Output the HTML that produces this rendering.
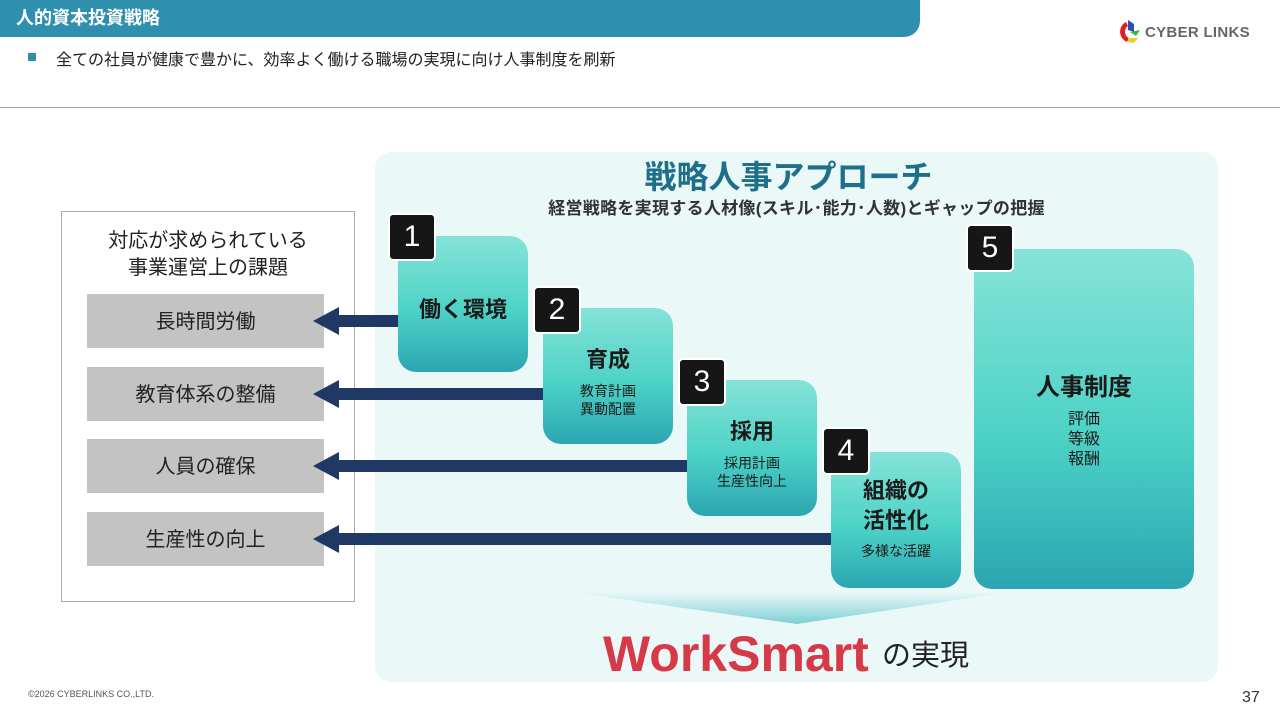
<!DOCTYPE html>
<html><head><meta charset="utf-8"><style>
*{margin:0;padding:0;box-sizing:border-box}
body{width:1280px;height:720px;background:#fff;position:relative;overflow:hidden;font-family:"Liberation Sans","Noto Sans CJK JP",sans-serif;color:#222}
.a{position:absolute}
.hdr{left:0;top:0;width:920px;height:37px;background:#2e8fae;border-bottom-right-radius:16px;color:#fff;font-weight:bold;font-size:18px;line-height:37px;padding-left:16px}
.panel{left:375px;top:152px;width:843px;height:530px;background:#eaf8f8;border-radius:16px}
.lbox{left:61px;top:211px;width:294px;height:391px;border:1px solid #aaa;background:#fff}
.g{left:87px;width:237px;height:54px;background:#c3c3c3;font-size:20px;text-align:center;line-height:56px;color:#222}
.card{border-radius:18px;background:linear-gradient(#86e3d8 0%,#4dd2c6 55%,#2ba5b1 100%);text-align:center;color:#1a1a1a}
.bd{width:48px;height:48px;background:#161616;border:2px solid #fff;border-radius:5px;color:#fff;font-size:30px;text-align:center;line-height:44px}
.t{font-size:22px;font-weight:bold}
.s{font-size:14px;line-height:18px}
</style></head><body>
<div class="a hdr">人的資本投資戦略</div>
<div class="a" style="left:28px;top:53px;width:8px;height:8px;background:#2e8fae"></div>
<div class="a" style="left:56px;top:46px;font-size:16px">全ての社員が健康で豊かに、効率よく働ける職場の実現に向け人事制度を刷新</div>
<div class="a" style="left:1118px;top:18px;width:24px;height:26px">
<svg width="24" height="26"><path d="M10 2 L16 6 L16 14 L10 12Z" fill="#2a4fb0"/><path d="M8 4 C0 8 0 20 9 24 L11 20 C6 18 6 10 10 8Z" fill="#e02020"/><path d="M12 14 L22 12 L18 18Z" fill="#3cb43c"/><path d="M10 20 L20 20 L16 25 L10 24Z" fill="#e8d030"/></svg></div>
<div class="a" style="left:1145px;top:24px;font-size:15px;color:#666;font-weight:bold;letter-spacing:0.3px">CYBER LINKS</div>
<div class="a" style="left:0;top:107px;width:1280px;height:1px;background:#9aa"></div>

<div class="a panel"></div>
<div class="a" style="left:367px;width:843px;top:152px;text-align:center;font-size:32px;font-weight:bold;color:#1e6f8a">戦略人事アプローチ</div>
<div class="a" style="left:375px;width:843px;top:194px;text-align:center;font-size:17px;font-weight:bold;color:#333;letter-spacing:0.3px">経営戦略を実現する人材像(スキル･能力･人数)とギャップの把握</div>

<div class="a lbox"></div>
<div class="a" style="left:61px;width:294px;top:228px;text-align:center;font-size:20px;line-height:27px">対応が求められている<br>事業運営上の課題</div>
<div class="a g" style="top:294px">長時間労働</div>
<div class="a g" style="top:367px">教育体系の整備</div>
<div class="a g" style="top:439px">人員の確保</div>
<div class="a g" style="top:512px">生産性の向上</div>

<svg class="a" style="left:0;top:0" width="1280" height="720">
<g fill="#1f3864">
<rect x="336" y="315" width="64" height="12"/><polygon points="313,321 339,307 339,335"/>
<rect x="336" y="388" width="209" height="12"/><polygon points="313,394 339,380 339,408"/>
<rect x="336" y="460" width="353" height="12"/><polygon points="313,466 339,452 339,480"/>
<rect x="336" y="533" width="497" height="12"/><polygon points="313,539 339,525 339,553"/>
</g>
<defs><linearGradient id="tg" x1="0" y1="0" x2="0" y2="1"><stop offset="0" stop-color="#eaf8f8"/><stop offset="1" stop-color="#7ccfd4"/></linearGradient></defs>
<polygon points="570,592 1010,592 797,624" fill="url(#tg)"/>
</svg>

<div class="a card" style="left:398px;top:236px;width:130px;height:136px"><div class="t" style="margin-top:56px">働く環境</div></div>
<div class="a card" style="left:543px;top:308px;width:130px;height:136px"><div class="t" style="margin-top:34px">育成</div><div class="s" style="margin-top:8px">教育計画<br>異動配置</div></div>
<div class="a card" style="left:687px;top:380px;width:130px;height:136px"><div class="t" style="margin-top:34px">採用</div><div class="s" style="margin-top:8px">採用計画<br>生産性向上</div></div>
<div class="a card" style="left:831px;top:452px;width:130px;height:136px"><div class="t" style="margin-top:24px;line-height:30px">組織の<br>活性化</div><div class="s" style="margin-top:6px">多様な活躍</div></div>
<div class="a card" style="left:974px;top:249px;width:220px;height:340px"><div class="t" style="margin-top:118px;font-size:24px">人事制度</div><div class="s" style="margin-top:8px;font-size:16px;line-height:20px">評価<br>等級<br>報酬</div></div>

<div class="a bd" style="left:388px;top:213px">1</div>
<div class="a bd" style="left:533px;top:286px">2</div>
<div class="a bd" style="left:678px;top:358px">3</div>
<div class="a bd" style="left:822px;top:427px">4</div>
<div class="a bd" style="left:966px;top:224px">5</div>

<div class="a" style="left:603px;top:626px;font-size:50px;font-weight:bold;color:#d63a48;letter-spacing:0px;line-height:56px">WorkSmart</div>
<div class="a" style="left:882px;top:638px;font-size:29px;color:#222;line-height:36px">の実現</div>

<div class="a" style="left:28px;top:689px;font-size:9px;color:#555">©2026 CYBERLINKS CO.,LTD.</div>
<div class="a" style="left:1242px;top:689px;font-size:16px;color:#333">37</div>
</body></html>
